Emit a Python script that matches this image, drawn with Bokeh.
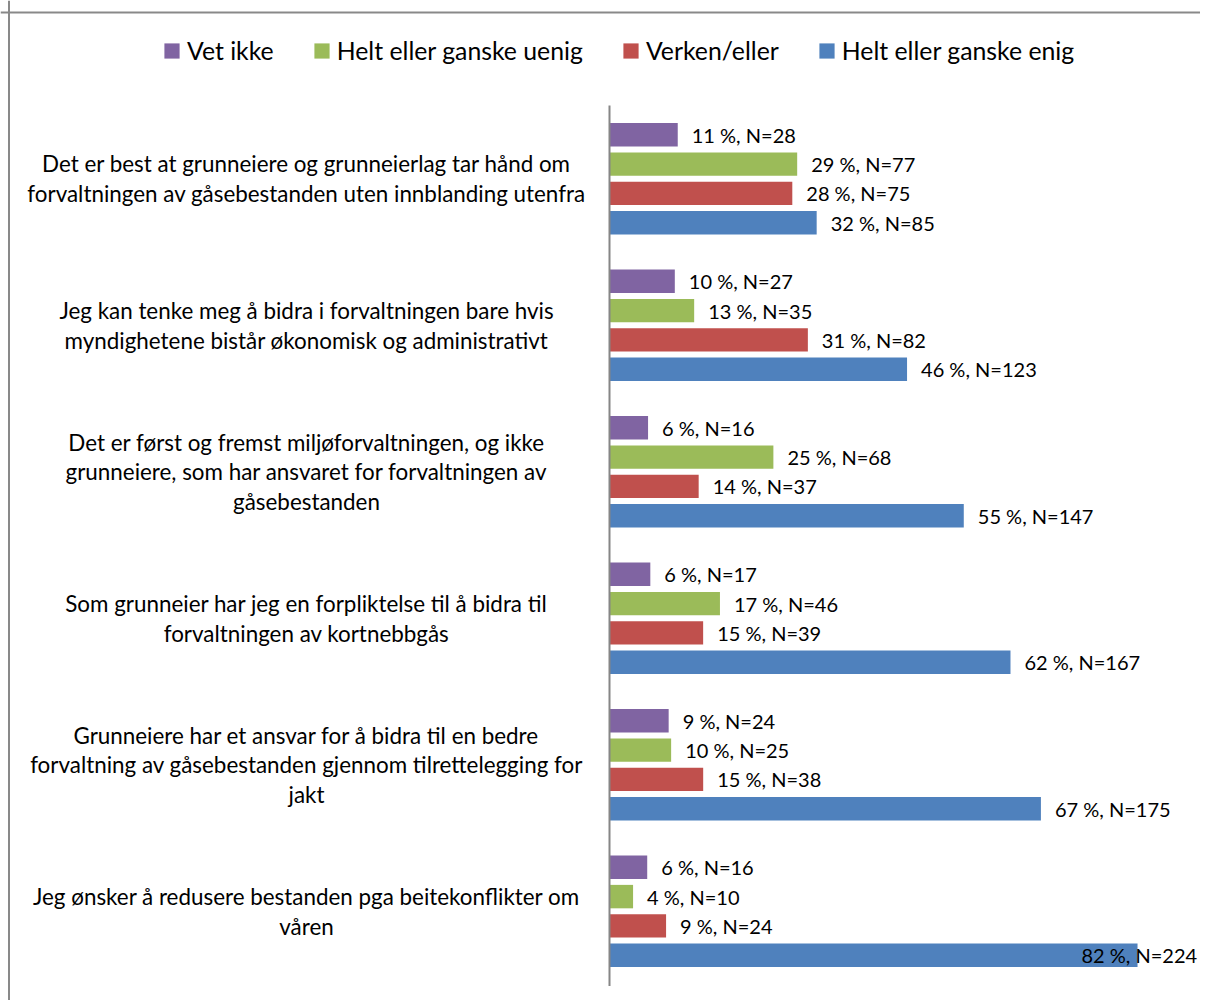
from bokeh.plotting import figure
from bokeh.models import Range1d, Span, Legend, LegendItem, ColumnDataSource
from bokeh.core.properties import value
from bokeh.embed import file_html
from bokeh.resources import INLINE

# ---------------- data ----------------
statements = [
    "Det er best at grunneiere og grunneierlag tar hånd om\nforvaltningen av gåsebestanden uten innblanding utenfra",
    "Jeg kan tenke meg å bidra i forvaltningen bare hvis\nmyndighetene bistår økonomisk og administrativt",
    "Det er først og fremst miljøforvaltningen, og ikke\ngrunneiere, som har ansvaret for forvaltningen av\ngåsebestanden",
    "Som grunneier har jeg en forpliktelse til å bidra til\nforvaltningen av kortnebbgås",
    "Grunneiere har et ansvar for å bidra til en bedre\nforvaltning av gåsebestanden gjennom tilrettelegging for\njakt",
    "Jeg ønsker å redusere bestanden pga beitekonflikter om\nvåren",
]
series_names = ["Vet ikke", "Helt eller ganske uenig", "Verken/eller", "Helt eller ganske enig"]
series_colors = ["#8064A2", "#9BBB59", "#C0504D", "#4F81BD"]

pct_vet_ikke = [11, 10, 6, 6, 9, 6]
n_vet_ikke = [28, 27, 16, 17, 24, 16]
pct_uenig = [29, 13, 25, 17, 10, 4]
n_uenig = [77, 35, 68, 46, 25, 10]
pct_verken = [28, 31, 14, 15, 15, 9]
n_verken = [75, 82, 37, 39, 38, 24]
pct_enig = [32, 46, 55, 62, 67, 82]
n_enig = [85, 123, 147, 167, 175, 224]

pcts = [pct_vet_ikke, pct_uenig, pct_verken, pct_enig]
ns = [n_vet_ikke, n_uenig, n_verken, n_enig]

# ---------------- layout constants ----------------
PX_PER_PCT = 6.459
AXIS_X = 609          # canvas px of the value axis
SLOT_PX = 29.3
TOP_PX = 105          # canvas px of the top of the category area
W, H = 1200, 1000
SLOTS_PER_GROUP = 5
n_groups = len(statements)

x_start = -AXIS_X / PX_PER_PCT
x_end = (W - AXIS_X) / PX_PER_PCT
y_top = -TOP_PX / SLOT_PX
y_bottom = (H - TOP_PX) / SLOT_PX

p = figure(width=W, height=H, output_backend="svg", toolbar_location=None,
           x_range=Range1d(x_start, x_end), y_range=Range1d(y_bottom, y_top),
           x_axis_location=None, y_axis_location=None, min_border=0)
p.grid.visible = False
p.outline_line_color = None
p.background_fill_color = "white"

totals = [sum(ns[s][g] for s in range(4)) for g in range(n_groups)]
LABEL_CAP = 70.9

renderers = []
for s in range(4):
    ys = [g * SLOTS_PER_GROUP + 1 + s for g in range(n_groups)]
    vals = [ns[s][g] / totals[g] * 100 for g in range(n_groups)]
    src = ColumnDataSource(dict(
        y=ys, v=vals,
        lx=[min(v, LABEL_CAP) for v in vals],
        lab=[f"{pcts[s][g]} %, N={ns[s][g]}" for g in range(n_groups)],
    ))
    r = p.hbar(y="y", left=0, right="v", height=0.8, source=src,
               fill_color=series_colors[s], line_color=None)
    renderers.append(r)
    p.text(x="lx", y="y", text="lab", source=src, x_offset=14,
           text_baseline="middle", text_align="left",
           text_font=value("Lato"), text_font_size="20px", text_color="#000000")

# category labels
cat_src = ColumnDataSource(dict(
    x=[(306 - AXIS_X) / PX_PER_PCT] * n_groups,
    y=[g * SLOTS_PER_GROUP + 2.5 for g in range(n_groups)],
    t=statements,
))
p.text(x="x", y="y", text="t", source=cat_src, text_align="center",
       text_baseline="middle", text_font=value("Lato"), text_font_size="22.4px",
       text_line_height=1.1, text_color="#000000")

# category axis line
p.segment(x0=[0], y0=[0], x1=[0], y1=[n_groups * SLOTS_PER_GROUP + 0.05],
          line_color="#868686", line_width=2)

# chart border (top and left)
p.add_layout(Span(location=y_top + 12 / SLOT_PX, dimension="width",
                  line_color="#898989", line_width=2))
p.add_layout(Span(location=x_start + 8.5 / PX_PER_PCT, dimension="height",
                  line_color="#898989", line_width=2))

legend = Legend(items=[LegendItem(label=series_names[i], renderers=[renderers[i]])
                       for i in range(4)],
                orientation="horizontal", location=(162, H - 65),
                glyph_width=19, glyph_height=19, label_standoff=6, spacing=38,
                padding=0, margin=0, border_line_color=None, background_fill_alpha=0,
                label_text_font="Lato", label_text_font_size="24.8px",
                label_text_color="#000000")
p.add_layout(legend)

open("out.html", "w").write(file_html(p, INLINE))
